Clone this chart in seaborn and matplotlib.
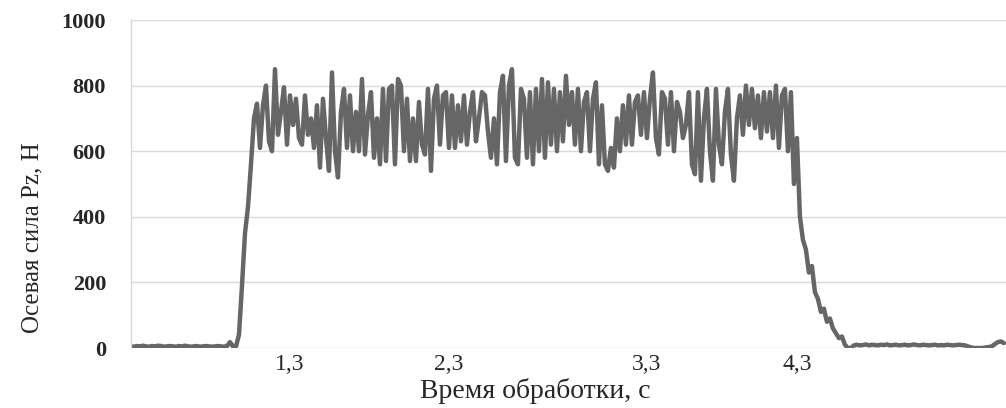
# plot.py - axial force Pz vs processing time

import numpy as np
import matplotlib
matplotlib.use('Agg')
import matplotlib.pyplot as plt
import seaborn as sns

# Force readings, one sample per step (values in N)
baseline_start = [5, 4, 6, 5, 7, 5, 4, 6, 5, 7, 6, 4, 5, 6, 5, 4, 6, 5,
                  7, 5, 4, 5, 6, 4, 5, 6, 5, 4, 5, 6, 5, 4, 6, 18, 5]
rise = [5, 40, 190, 350, 430, 560, 700]
plateau = [
    745, 610, 740, 800, 630, 600, 850, 650, 720, 795, 620, 770,
    680, 760, 640, 620, 770, 650, 700, 610, 740, 550, 760, 640,
    540, 840, 600, 520, 720, 790, 610, 770, 600, 720, 600, 820,
    590, 710, 780, 580, 700, 560, 790, 570, 790, 800, 560, 820,
    800, 600, 760, 570, 700, 570, 750, 620, 590, 790, 540, 760,
    800, 620, 770, 780, 610, 770, 610, 740, 630, 770, 620, 720,
    780, 630, 700, 780, 770, 660, 580, 700, 560, 780, 830, 570,
    800, 850, 580, 560, 790, 760, 580, 780, 560, 790, 600, 820,
    580, 810, 620, 790, 600, 780, 630, 830, 680, 780, 620, 790,
    600, 750, 780, 600, 760, 810, 560, 740, 560, 540, 610, 550,
    700, 600, 740, 620, 770, 620, 750, 770, 650, 780, 640, 760,
    840, 640, 590, 780, 760, 620, 780, 600, 750, 720, 640, 680,
    780, 560, 530, 780, 510, 700, 790, 600, 510, 790, 620, 560,
    720, 790, 590, 510, 700, 770, 650, 800, 680, 790, 670, 770,
    640, 780, 660, 780, 640, 800, 610, 770, 790, 600, 780,
]
fall = [500, 640, 400, 330, 300, 230, 250, 170, 150, 110, 120, 80,
        90, 60, 45, 30, 35, 10, 0]
tail = [0, 8, 10, 8, 9, 11, 8, 10, 9, 8, 10, 9, 11, 8, 9, 10, 8, 9, 10,
        8, 9, 11, 9, 8, 10, 9, 8, 9, 10, 8, 9, 8, 10, 9, 8, 9, 10, 9, 8,
        5, 2, 0, 0, 0, 0, 2, 3, 5, 12, 18, 20, 15]

# x axis labels (time, s) and the samples they sit under
tick_samples = [53, 106, 172, 222]
tick_labels = ['1,3', '2,3', '3,3', '4,3']
y_ticks = [0, 200, 400, 600, 800, 1000]

force = np.array(baseline_start + rise + plateau + fall + tail, dtype=float)
sample = np.arange(len(force))

sns.set_style('white')
plt.rcParams['font.family'] = ['Liberation Serif', 'DejaVu Serif']

fig = plt.figure(figsize=(10.06, 4.08), dpi=100)
ax = fig.add_axes([131 / 1006, 1 - 348 / 408, 875 / 1006, 328 / 408])

sns.lineplot(x=sample, y=force, ax=ax, color='#666666', linewidth=3.2)

ax.set_xlim(0, 291.7)
ax.set_ylim(0, 1000)
ax.set_yticks(y_ticks)
ax.set_yticklabels([str(v) for v in y_ticks], fontsize=16, fontweight='bold')
ax.set_xticks(tick_samples)
ax.set_xticklabels(tick_labels, fontsize=17)
ax.tick_params(axis='y', length=0, pad=18)
ax.tick_params(axis='x', length=0, pad=4)

# Excel-like light grid
ax.yaxis.grid(True, color='#d9d9d9', linewidth=1)
ax.set_axisbelow(True)
for side in ['top', 'right', 'bottom']:
    ax.spines[side].set_visible(False)
ax.spines['left'].set_color('#d9d9d9')
ax.spines['left'].set_linewidth(1)

ax.set_ylabel('Осевая сила Pz, Н', fontsize=18)
ax.yaxis.set_label_coords(-0.1006, 0.335)
ax.set_xlabel('Время обработки, с', fontsize=20)
ax.xaxis.set_label_coords(0.462, -0.092)

fig.savefig('out.png', dpi=100)
print('[OK] saved out.png')
